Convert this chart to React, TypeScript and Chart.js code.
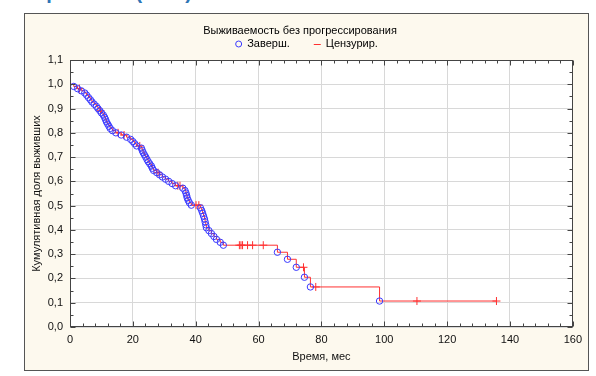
import React, { useEffect, useRef } from "react";
import { Chart, registerables } from "chart.js";

Chart.register(...registerables);

const chartTitle = "Выживаемость без прогрессирования";
const legendLabels = ["Заверш.", "Цензурир."];
const xAxisTitle = "Время, мес";
const yAxisTitle = "Кумулятивная доля выживших";
const headingText = "Рис. 1. Выживаемость без прогрессирования (ВБП)";

const xMin = 0;
const xMax = 160;
const xStep = 20;
const xMinorStep = 4;
const yMin = 0;
const yMax = 1.1;
const yStep = 0.1;
const yMinorStep = 0.05;

// Completed (event) observations: time and survival after event
const eventTimes = [
  1.2, 2.4, 3.6, 4.7, 5.3, 5.9, 6.5, 7.0, 7.7, 8.4, 8.9, 9.5, 10.0, 10.6, 11.0, 11.3, 11.6, 12.0, 12.4, 12.8,
  13.5, 14.6, 16.3, 18.0, 19.3, 20.0, 20.6, 21.2, 22.7, 23.0, 23.3, 23.7, 24.1, 24.5, 24.9, 25.4, 25.9, 26.2,
  26.6, 27.6, 28.5, 29.4, 30.4, 31.4, 32.5, 33.6, 35.9, 36.6, 36.9, 37.1, 37.3, 37.6, 38.0, 38.6, 41.5, 41.9,
  42.2, 42.5, 42.8, 43.0, 43.2, 43.4, 44.2, 45.0, 45.8, 46.6, 47.8, 48.8, 66.0, 69.2, 72.0, 74.6, 76.5, 98.5,
];
const eventSurvival = [
  0.991, 0.982, 0.973, 0.964, 0.955, 0.945, 0.936, 0.927, 0.918, 0.909, 0.9, 0.891, 0.882, 0.873, 0.864, 0.855,
  0.845, 0.836, 0.827, 0.818, 0.809, 0.8, 0.791, 0.782, 0.773, 0.764, 0.755, 0.746, 0.737, 0.727, 0.718, 0.709,
  0.7, 0.69, 0.681, 0.672, 0.663, 0.654, 0.645, 0.636, 0.627, 0.618, 0.609, 0.6, 0.591, 0.582, 0.572, 0.562,
  0.552, 0.542, 0.532, 0.522, 0.512, 0.502, 0.491, 0.48, 0.469, 0.457, 0.445, 0.433, 0.421, 0.409, 0.397, 0.385,
  0.373, 0.361, 0.349, 0.337, 0.308, 0.279, 0.246, 0.205, 0.165, 0.107,
];

// Censored observations
const censorTimes = [
  3.0, 9.7, 15.3, 17.2, 22.2, 28.0, 34.3, 35.0, 40.1, 41.0, 53.9, 54.4, 54.9, 56.5, 58.1, 61.5, 74.3, 78.2,
  110.4, 135.7,
];
const censorSurvival = [
  0.982, 0.891, 0.8, 0.791, 0.746, 0.636, 0.582, 0.582, 0.502, 0.502, 0.337, 0.337, 0.337, 0.337, 0.337, 0.337,
  0.246, 0.165, 0.107, 0.107,
];

const FONT = '"Liberation Sans", Arial, sans-serif';
const EVENT_COLOR = "#3a3aff";
const LINE_COLOR = "#ff3030";

const fmtY = (v: number) => v.toFixed(1).replace(".", ",");

export default function App() {
  const canvasRef = useRef<HTMLCanvasElement | null>(null);

  useEffect(() => {
    const canvas = canvasRef.current;
    if (!canvas) return;

    const events = eventTimes.map((t, i) => ({ x: t, y: eventSurvival[i] }));
    const censored = censorTimes.map((t, i) => ({ x: t, y: censorSurvival[i] }));
    const lastCensor = censorTimes.length - 1;
    const curve = [
      { x: 0, y: 1 },
      ...events,
      { x: censorTimes[lastCensor], y: censorSurvival[lastCensor] },
    ];

    const framePlugin = {
      id: "frameAndLegend",
      beforeDraw(chart: any) {
        const { ctx, chartArea } = chart;
        ctx.save();
        ctx.fillStyle = "#ffffff";
        ctx.fillRect(chartArea.left, chartArea.top, chartArea.right - chartArea.left, chartArea.bottom - chartArea.top);
        ctx.restore();
      },
      afterDraw(chart: any) {
        const { ctx, chartArea } = chart;
        const xs = chart.scales.x;
        const ys = chart.scales.y;
        const L = Math.round(chartArea.left) + 0.5;
        const R = Math.round(chartArea.right) - 0.5;
        const T = Math.round(chartArea.top) + 0.5;
        const B = Math.round(chartArea.bottom) - 0.5;
        ctx.save();
        ctx.strokeStyle = "#444";
        ctx.lineWidth = 1;
        ctx.strokeRect(L, T, R - L, B - T);
        ctx.beginPath();
        for (let v = xMin; v <= xMax + 1e-9; v += xMinorStep) {
          const p = Math.round(xs.getPixelForValue(v)) + 0.5;
          const len = Math.abs(v % xStep) < 1e-6 ? 5 : 3;
          ctx.moveTo(p, B);
          ctx.lineTo(p, B - len);
          ctx.moveTo(p, T);
          ctx.lineTo(p, T + len);
        }
        for (let v = yMin; v <= yMax + 1e-9; v += yMinorStep) {
          const p = Math.round(ys.getPixelForValue(v)) + 0.5;
          const r = Math.round(v / yStep);
          const len = Math.abs(v / yStep - r) < 1e-6 ? 5 : 3;
          ctx.moveTo(L, p);
          ctx.lineTo(L + len, p);
          ctx.moveTo(R, p);
          ctx.lineTo(R - len, p);
        }
        ctx.stroke();

        // legend
        ctx.font = `11px ${FONT}`;
        ctx.fillStyle = "#000";
        ctx.textBaseline = "middle";
        ctx.textAlign = "left";
        const marker = 7;
        const gap = 5;
        const itemGap = 24;
        const w1 = ctx.measureText(legendLabels[0]).width;
        const w2 = ctx.measureText(legendLabels[1]).width;
        const total = marker + gap + w1 + itemGap + marker + gap + w2;
        let x = chart.width / 2 - total / 2;
        const cy = 30;
        ctx.strokeStyle = EVENT_COLOR;
        ctx.beginPath();
        ctx.arc(x + marker / 2, cy, 3, 0, Math.PI * 2);
        ctx.stroke();
        x += marker + gap;
        ctx.fillText(legendLabels[0], x, cy);
        x += w1 + itemGap;
        ctx.strokeStyle = LINE_COLOR;
        ctx.beginPath();
        ctx.moveTo(x, cy + 0.5);
        ctx.lineTo(x + marker, cy + 0.5);
        ctx.stroke();
        x += marker + gap;
        ctx.fillText(legendLabels[1], x, cy);
        ctx.restore();
      },
    };

    const chart = new Chart(canvas, {
      type: "scatter",
      data: {
        datasets: [
          {
            label: legendLabels[0],
            data: events,
            pointStyle: "circle",
            pointRadius: 3.2,
            borderColor: EVENT_COLOR,
            backgroundColor: "rgba(0,0,0,0)",
            borderWidth: 1,
            showLine: false,
          },
          {
            label: legendLabels[1],
            data: censored,
            pointStyle: "cross",
            pointRadius: 4,
            borderColor: LINE_COLOR,
            backgroundColor: LINE_COLOR,
            borderWidth: 1,
            showLine: false,
          },
          {
            label: "curve",
            data: curve,
            showLine: true,
            stepped: "before",
            borderColor: LINE_COLOR,
            borderWidth: 1,
            pointRadius: 0,
            fill: false,
          },
        ],
      },
      options: {
        animation: false,
        responsive: false,
        events: [],
        layout: { padding: { left: 0, right: 13, top: 0, bottom: 0 } },
        plugins: {
          legend: { display: false },
          tooltip: { enabled: false },
          title: {
            display: true,
            text: chartTitle,
            color: "#000",
            font: { family: FONT, size: 11, weight: "normal" },
            padding: { top: 10, bottom: 22.8 },
          },
        },
        scales: {
          x: {
            type: "linear",
            min: xMin,
            max: xMax,
            afterFit: (s: any) => {
              s.height = 43;
            },
            ticks: {
              stepSize: xStep,
              color: "#111",
              font: { family: FONT, size: 11 },
              padding: 6,
              maxRotation: 0,
            },
            grid: { color: "#d8d8d8", drawTicks: false },
            border: { display: false },
            title: {
              display: true,
              text: xAxisTitle,
              color: "#111",
              font: { family: FONT, size: 11 },
              padding: { top: 0, bottom: 6 },
            },
          },
          y: {
            type: "linear",
            min: yMin,
            max: yMax,
            afterFit: (s: any) => {
              s.width = 45;
            },
            ticks: {
              stepSize: yStep,
              color: "#111",
              font: { family: FONT, size: 11 },
              padding: 7,
              callback: (v: any) => fmtY(Number(v)),
            },
            grid: { color: "#d8d8d8", drawTicks: false },
            border: { display: false },
            title: {
              display: true,
              text: yAxisTitle,
              color: "#111",
              font: { family: FONT, size: 11 },
              padding: { top: 5, bottom: 0 },
            },
          },
        },
      },
      plugins: [framePlugin],
    } as any);

    return () => chart.destroy();
  }, []);

  return (
    <div style={{ position: "fixed", left: 0, top: 0, width: 596, height: 376, background: "#fff", overflow: "hidden" }}>
      <div
        style={{
          position: "absolute",
          left: 0,
          width: 192,
          top: -18,
          height: 20,
          lineHeight: "20px",
          textAlign: "right",
          whiteSpace: "nowrap",
          direction: "rtl",
          fontFamily: FONT,
          fontWeight: "bold",
          fontSize: 20,
          color: "#2e75b6",
        }}
      >
        <span style={{ direction: "ltr", unicodeBidi: "embed" }}>{headingText}</span>
      </div>
      <div
        style={{
          position: "absolute",
          left: 24,
          top: 13,
          width: 565,
          height: 358,
          boxSizing: "border-box",
          border: "1px solid #555",
          background: "#fdf9ee",
        }}
      >
        <canvas ref={canvasRef} width={563} height={356} style={{ display: "block", width: 563, height: 356 }} />
      </div>
    </div>
  );
}
